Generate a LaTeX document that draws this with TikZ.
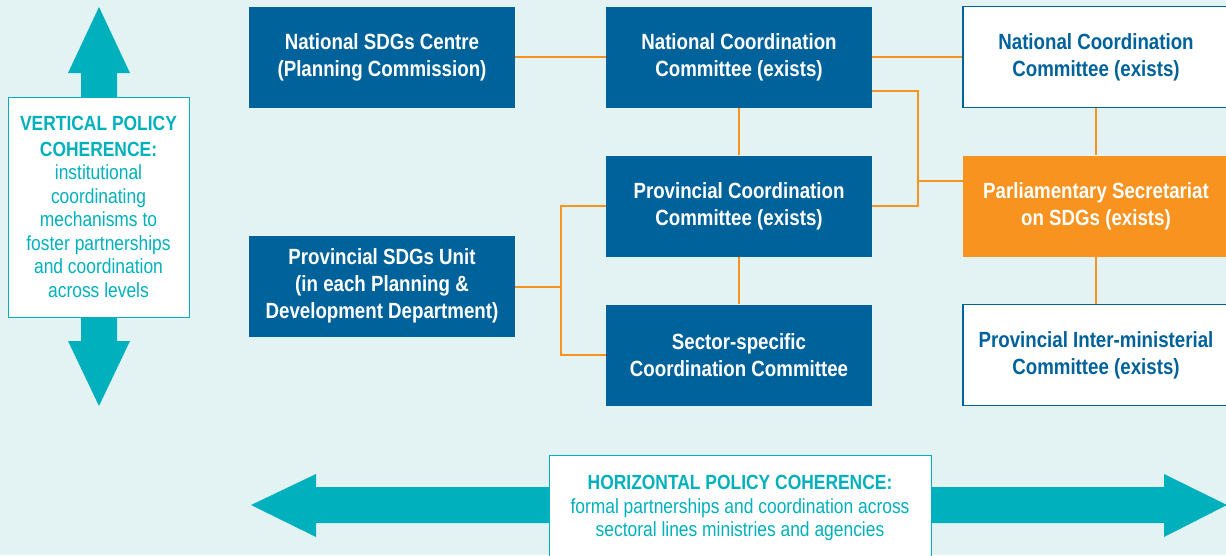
\documentclass[tikz,border=0pt]{standalone}
\usepackage{fontspec}
\setmainfont{Liberation Sans}[FakeStretch=0.85]
\definecolor{sdgbg}{HTML}{E3F3F4}
\definecolor{sdgteal}{HTML}{00B1BD}
\definecolor{sdgblue}{HTML}{00629B}
\definecolor{sdgorange}{HTML}{F7931E}

\begin{document}
\begin{tikzpicture}[x=1pt, y=-1pt,
    box/.style={fill=sdgblue, text=white, font=\fontsize{22}{27}\selectfont\bfseries,
        align=center, minimum width=266pt, minimum height=101pt, inner sep=0pt},
    openbox/.style={box, fill=white, draw=sdgblue, line width=1.5pt, text=sdgblue},
    hotbox/.style={box, fill=sdgorange},
    note/.style={fill=white, draw=sdgteal, line width=1pt, text=sdgteal, align=center,
        font=\fontsize{20.5}{23.5}\selectfont, inner sep=0pt},
    link/.style={draw=sdgorange, line width=1.6pt}]
    \fill[sdgbg] (0,0) rectangle (1226,555);
    \useasboundingbox (0,0) rectangle (1226,555);

    % big arrows
    \fill[sdgteal] (99,7) -- (130,73) -- (117,73) -- (117,341) -- (130,341) -- (99,406)
        -- (68,341) -- (81,341) -- (81,73) -- (68,73) -- cycle;
    \fill[sdgteal] (251,505) -- (316,474) -- (316,487) -- (1164,487) -- (1164,474) -- (1227,505)
        -- (1164,537) -- (1164,523) -- (316,523) -- (316,537) -- cycle;

    \node[note, minimum width=181pt, minimum height=220pt] (vert) at (98.5,207)
        {\textbf{VERTICAL POLICY}\\[2pt]\textbf{COHERENCE:}\\institutional\\coordinating\\mechanisms to\\foster partnerships\\and coordination\\across levels};
    \node[note, minimum width=382pt, minimum height=106pt] (horiz) at (740,508)
        {\textbf{HORIZONTAL POLICY COHERENCE:}\\formal partnerships and coordination across\\sectoral lines ministries and agencies};

    \node[box] (nsc) at (382,57) {National SDGs Centre\\(Planning Commission)};
    \node[box] (psu) at (382,286) {Provincial SDGs Unit\\(in each Planning \&\\Development Department)};
    \node[box] (ncc) at (739,57) {National Coordination\\Committee (exists)};
    \node[box] (pcc) at (739,206) {Provincial Coordination\\Committee (exists)};
    \node[box] (sec) at (739,355) {Sector-specific\\Coordination Committee};
    \node[openbox] (ncr) at (1096,57) {National Coordination\\Committee (exists)};
    \node[hotbox] (psec) at (1096,206) {Parliamentary Secretariat\\on SDGs (exists)};
    \node[openbox] (pim) at (1096,355) {Provincial Inter-ministerial\\Committee (exists)};

    \coordinate (jn) at (918,181);
    \coordinate (pj) at (561,287);

    \draw[link] (nsc) -- (ncc);
    \draw[link] (ncc) -- (ncr);
    \draw[link] (ncc) -- (pcc);
    \draw[link] (pcc) -- (sec);
    \draw[link] ([yshift=17pt]ncc.south east) -| (jn) |- (pcc.east);
    \draw[link] (jn) -- (jn -| psec.west);
    \draw[link] (psu.east |- pj) -- (pj);
    \draw[link] (pcc.west) -| (pj) |- (sec.west);
    \draw[link] (ncr) -- (psec);
    \draw[link] (psec) -- (pim);
\end{tikzpicture}
\end{document}
